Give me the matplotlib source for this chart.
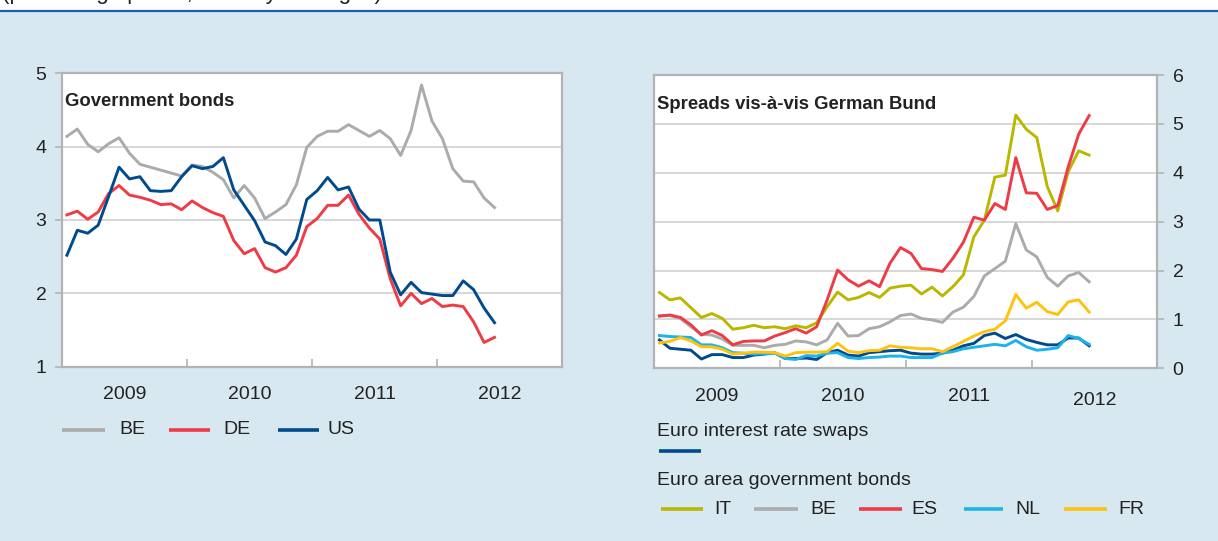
import numpy as np
import matplotlib
matplotlib.use('Agg')
import matplotlib.pyplot as plt
from matplotlib.lines import Line2D
from matplotlib.patches import Rectangle
from matplotlib.transforms import blended_transform_factory

plt.rcParams['font.family'] = ['Liberation Sans', 'DejaVu Sans']

# monthly averages, Jan 2009 - Jun 2012
meses = np.arange(42)
anos = ['2009', '2010', '2011', '2012']

# government bond yields (percentages)
be_bond = [4.14, 4.24, 4.03, 3.93, 4.04, 4.12, 3.91, 3.76, 3.72, 3.68, 3.64, 3.60,
           3.75, 3.73, 3.65, 3.55, 3.30, 3.47, 3.30, 3.02, 3.11, 3.21, 3.48, 3.99,
           4.14, 4.21, 4.21, 4.30, 4.22, 4.14, 4.22, 4.11, 3.88, 4.22, 4.84, 4.35,
           4.11, 3.70, 3.53, 3.52, 3.30, 3.17]
de_bond = [3.07, 3.12, 3.01, 3.11, 3.36, 3.47, 3.34, 3.31, 3.27, 3.21, 3.22, 3.14,
           3.26, 3.17, 3.10, 3.05, 2.72, 2.54, 2.61, 2.35, 2.29, 2.35, 2.52, 2.91,
           3.02, 3.20, 3.20, 3.34, 3.08, 2.89, 2.74, 2.20, 1.83, 2.00, 1.86, 1.93,
           1.82, 1.84, 1.82, 1.61, 1.33, 1.40]
us_bond = [2.52, 2.86, 2.82, 2.93, 3.32, 3.72, 3.56, 3.59, 3.40, 3.39, 3.40, 3.59,
           3.74, 3.70, 3.73, 3.85, 3.41, 3.20, 2.99, 2.70, 2.65, 2.53, 2.74, 3.28,
           3.40, 3.58, 3.41, 3.45, 3.15, 3.00, 3.00, 2.29, 1.98, 2.15, 2.01, 1.99,
           1.97, 1.97, 2.17, 2.05, 1.80, 1.60]

# spreads vis-a-vis German Bund (percentage points)
it_sp = [1.55, 1.40, 1.44, 1.24, 1.04, 1.12, 1.02, 0.80, 0.83, 0.88, 0.83, 0.85,
         0.81, 0.87, 0.83, 0.93, 1.26, 1.56, 1.40, 1.45, 1.55, 1.45, 1.64, 1.68,
         1.70, 1.52, 1.66, 1.48, 1.67, 1.91, 2.69, 3.03, 3.91, 3.95, 5.18, 4.89,
         4.72, 3.72, 3.22, 4.02, 4.45, 4.36]
be_sp = [1.07, 1.08, 1.02, 0.85, 0.70, 0.68, 0.60, 0.47, 0.47, 0.47, 0.42, 0.47,
         0.49, 0.56, 0.54, 0.48, 0.58, 0.92, 0.66, 0.67, 0.81, 0.85, 0.95, 1.08,
         1.11, 1.02, 0.99, 0.94, 1.15, 1.25, 1.47, 1.89, 2.04, 2.19, 2.96, 2.42,
         2.28, 1.86, 1.68, 1.89, 1.96, 1.77]
es_sp = [1.07, 1.09, 1.04, 0.89, 0.68, 0.77, 0.67, 0.48, 0.55, 0.56, 0.56, 0.66,
         0.73, 0.81, 0.72, 0.85, 1.40, 2.01, 1.81, 1.68, 1.79, 1.67, 2.15, 2.47,
         2.35, 2.04, 2.02, 1.98, 2.25, 2.58, 3.09, 3.03, 3.37, 3.25, 4.31, 3.59,
         3.58, 3.25, 3.33, 4.12, 4.79, 5.17]
nl_sp = [0.67, 0.65, 0.64, 0.63, 0.48, 0.48, 0.42, 0.32, 0.31, 0.29, 0.30, 0.31,
         0.20, 0.18, 0.26, 0.25, 0.31, 0.32, 0.22, 0.20, 0.22, 0.23, 0.25, 0.25,
         0.22, 0.22, 0.22, 0.31, 0.34, 0.40, 0.43, 0.46, 0.49, 0.46, 0.57, 0.44,
         0.37, 0.39, 0.42, 0.67, 0.61, 0.49]
fr_sp = [0.52, 0.55, 0.63, 0.56, 0.44, 0.44, 0.39, 0.29, 0.31, 0.33, 0.33, 0.32,
         0.25, 0.32, 0.33, 0.33, 0.34, 0.51, 0.35, 0.32, 0.36, 0.37, 0.46, 0.43,
         0.42, 0.40, 0.40, 0.34, 0.44, 0.55, 0.66, 0.75, 0.80, 0.97, 1.51, 1.23,
         1.35, 1.16, 1.10, 1.36, 1.40, 1.15]
swaps_sp = [0.58, 0.41, 0.39, 0.37, 0.19, 0.28, 0.28, 0.22, 0.22, 0.27, 0.29, 0.32,
            0.20, 0.20, 0.21, 0.18, 0.32, 0.37, 0.27, 0.25, 0.32, 0.34, 0.36, 0.37,
            0.31, 0.29, 0.29, 0.31, 0.37, 0.46, 0.51, 0.67, 0.72, 0.61, 0.69, 0.59,
            0.53, 0.48, 0.48, 0.62, 0.62, 0.46]

GRIS = '#ababab'
VERMELLO = '#ee3b45'
AZUL = '#004b8d'
OLIVA = '#bab700'
CELESTE = '#1eb2ea'
AMARELO = '#ffc20e'
FONDO = '#d8e8f1'
BORDE = '#b3b3b3'
GRELLA = '#d4d4d4'

W, H = 1218, 541
fig = plt.figure(figsize=(W / 100, H / 100), dpi=100, facecolor=FONDO)


def fx(px):
    return px / W


def fy(py):
    return 1 - py / H


# white strip on top with the cut subtitle and blue rule
fig.add_artist(Rectangle((0, fy(10.5)), 1, 1 - fy(10.5), transform=fig.transFigure,
                         facecolor='white', edgecolor='none', zorder=0))
fig.add_artist(Line2D([0, 1], [fy(11), fy(11)], transform=fig.transFigure,
                      color='#1f5fa6', lw=1.6))
fig.text(fx(2), fy(-1), '(percentage points; monthly averages)', fontsize=16,
         va='baseline', ha='left', color='#222222')


def estilo(ax, ymin, ymax, lado):
    ax.set_facecolor('white')
    ax.set_xlim(-0.5, 47.5)
    ax.set_ylim(ymin, ymax)
    for s in ax.spines.values():
        s.set_color(BORDE)
        s.set_linewidth(1.6)
    ax.set_yticks(range(ymin, ymax + 1))
    ax.grid(axis='y', color=GRELLA, lw=1.3)
    ax.set_axisbelow(True)
    ax.set_xticks([11.5, 23.5, 35.5])
    ax.set_xticklabels([])
    ax.tick_params(axis='x', direction='in', length=6, width=1.2, color=BORDE)
    if lado == 'right':
        ax.yaxis.tick_right()
    ax.tick_params(axis='y', length=5, width=1.2, color=BORDE, labelsize=14,
                   pad=6, labelcolor='#222222')
    tr = blended_transform_factory(ax.transData, ax.transAxes)
    return tr


# left panel
ax1 = fig.add_axes([fx(61.7), fy(366.7), fx(562.3 - 61.7), (366.7 - 73.3) / H])
tr1 = estilo(ax1, 1, 5, 'left')
ax1.plot(meses, be_bond, color=GRIS, lw=2.1)
ax1.plot(meses, de_bond, color=VERMELLO, lw=2.1)
ax1.plot(meses, us_bond, color=AZUL, lw=2.1)
for k, a in enumerate(anos):
    ax1.text(5.5 + 12 * k, -0.095, a, transform=tr1, ha='center', va='center',
             fontsize=14, color='#222222')
ax1.text(0.006, 0.905, 'Government bonds', transform=ax1.transAxes, fontsize=13.3,
         fontweight='bold', va='center', ha='left', color='#222222')

# right panel
ax2 = fig.add_axes([fx(654.2), fy(368.3), fx(1157.3 - 654.2), (368.3 - 75) / H])
tr2 = estilo(ax2, 0, 6, 'right')
ax2.plot(meses, swaps_sp, color=AZUL, lw=2.1, zorder=2)
ax2.plot(meses, nl_sp, color=CELESTE, lw=2.1, zorder=3)
ax2.plot(meses, fr_sp, color=AMARELO, lw=2.1, zorder=4)
ax2.plot(meses, be_sp, color=GRIS, lw=2.1, zorder=5)
ax2.plot(meses, it_sp, color=OLIVA, lw=2.1, zorder=6)
ax2.plot(meses, es_sp, color=VERMELLO, lw=2.1, zorder=7)
for k, a in enumerate(anos):
    dy = -0.11 if a == '2012' else -0.095
    ax2.text(5.5 + 12 * k, dy, a, transform=tr2, ha='center', va='center',
             fontsize=14, color='#222222')
ax2.text(0.006, 0.90, 'Spreads vis-à-vis German Bund', transform=ax2.transAxes,
         fontsize=13.3, fontweight='bold', va='center', ha='left', color='#222222')


def entrada(x0, x1, xt, y, cor, txt):
    fig.add_artist(Line2D([fx(x0), fx(x1)], [fy(y), fy(y)], transform=fig.transFigure,
                          color=cor, lw=2.6, solid_capstyle='butt'))
    fig.text(fx(xt), fy(y), txt, fontsize=14, va='center', ha='left', color='#222222')


# legends
entrada(62, 104.6, 119.3, 430, GRIS, 'BE')
entrada(169.3, 210.4, 222.9, 430, VERMELLO, 'DE')
entrada(277.9, 319, 327.9, 430, AZUL, 'US')

fig.text(fx(656.7), fy(431.7), 'Euro interest rate swaps', fontsize=14, va='center',
         ha='left', color='#222222')
fig.add_artist(Line2D([fx(659), fx(701)], [fy(451), fy(451)], transform=fig.transFigure,
                      color=AZUL, lw=2.6, solid_capstyle='butt'))
fig.text(fx(656.7), fy(480.7), 'Euro area government bonds', fontsize=14, va='center',
         ha='left', color='#222222')
entrada(661, 703.3, 714, 509, OLIVA, 'IT')
entrada(754.3, 797.7, 810.7, 509, GRIS, 'BE')
entrada(859, 902.3, 911.7, 509, VERMELLO, 'ES')
entrada(964.3, 1003.3, 1015, 509, CELESTE, 'NL')
entrada(1064, 1107.3, 1118.3, 509, AMARELO, 'FR')

fig.savefig('out.png', dpi=100, facecolor=FONDO)
